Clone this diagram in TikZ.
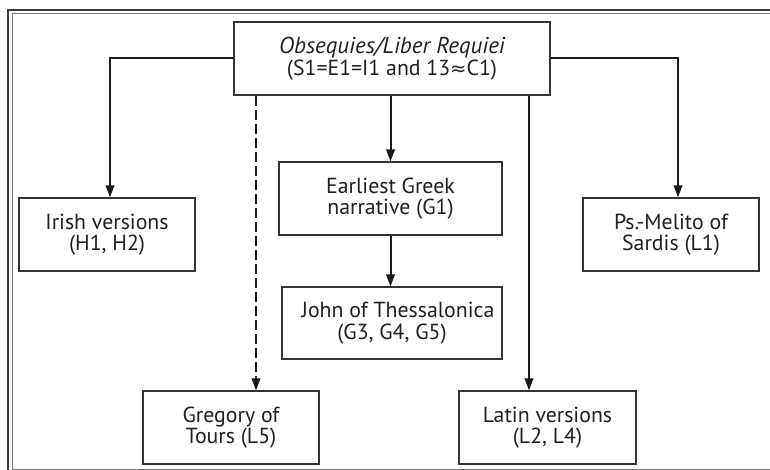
\documentclass[tikz,border=0pt]{standalone}
\usepackage{fontspec}
\setmainfont{PT Sans}
\newfontfamily\symfnt{DejaVu Sans}
\usetikzlibrary{arrows.meta}
\definecolor{txtc}{HTML}{231F20}
\definecolor{boxc}{HTML}{333333}
\definecolor{linec}{HTML}{1A1A1A}
\definecolor{framec}{HTML}{3A3A3A}
\definecolor{framel}{HTML}{7A7A7A}
\begin{document}
\begin{tikzpicture}[x=1pt,y=-1pt,
  box/.style={draw=boxc, line width=1.1pt, fill=white, align=center, inner sep=0pt,
    font=\fontsize{21.8}{21.5}\selectfont, text=txtc},
  arr/.style={draw=linec, line width=2pt, -{Triangle[length=12pt,width=8.5pt]}}]
\useasboundingbox (0,0) rectangle (770,470);
% frame
\draw[framec, line width=2pt] (8,470) -- (8,10) -- (770,10);
\draw[framel, line width=1pt] (12,470) -- (12,14) -- (770,14);
\draw[framel, line width=1pt] (12,469) -- (770,469);
% nodes
\node[box, minimum width=316pt, minimum height=73pt] (top) at (392,58.5)
  {{\fontsize{23}{21.5}\selectfont\itshape Obsequies/Liber Requiei}\\(S1=E1=I1 and 13{\symfnt\fontsize{19.5}{21.5}\selectfont ≈}C1)};
\node[box, minimum width=176pt, minimum height=73pt] (irish) at (107,234.5)
  {Irish versions\\(H1, H2)};
\node[box, minimum width=223pt, minimum height=73pt] (greek) at (390.5,198.5)
  {Earliest Greek\\narrative (G1)};
\node[box, minimum width=220pt, minimum height=72pt] (john) at (392,323)
  {\hspace*{12pt}John of Thessalonica\\(G3, G4, G5)};
\node[box, minimum width=176pt, minimum height=73pt] (melito) at (671,234.5)
  {Ps.-Melito of\\Sardis (L1)};
\node[box, minimum width=176pt, minimum height=73pt] (gregory) at (231,427.5)
  {Gregory of\\Tours (L5)};
\node[box, minimum width=177pt, minimum height=73pt] (latin) at (547.5,427.5)
  {Latin versions\\(L2, L4)};
% connectors
\draw[arr] (top.west) -| ([xshift=3pt]irish.north);
\draw[arr] (top.east) -| ([xshift=7pt]melito.north);
\draw[arr] (greek.north |- top.south) -- (greek.north);
\draw[arr] (greek.south) -- (greek.south |- john.north);
\draw[arr] ([xshift=-18.5pt]latin.north |- top.south) -- ([xshift=-18.5pt]latin.north);
\draw[arr, dash pattern=on 10pt off 4pt] ([xshift=25pt]gregory.north |- top.south) -- ([xshift=25pt]gregory.north);
\end{tikzpicture}
\end{document}
